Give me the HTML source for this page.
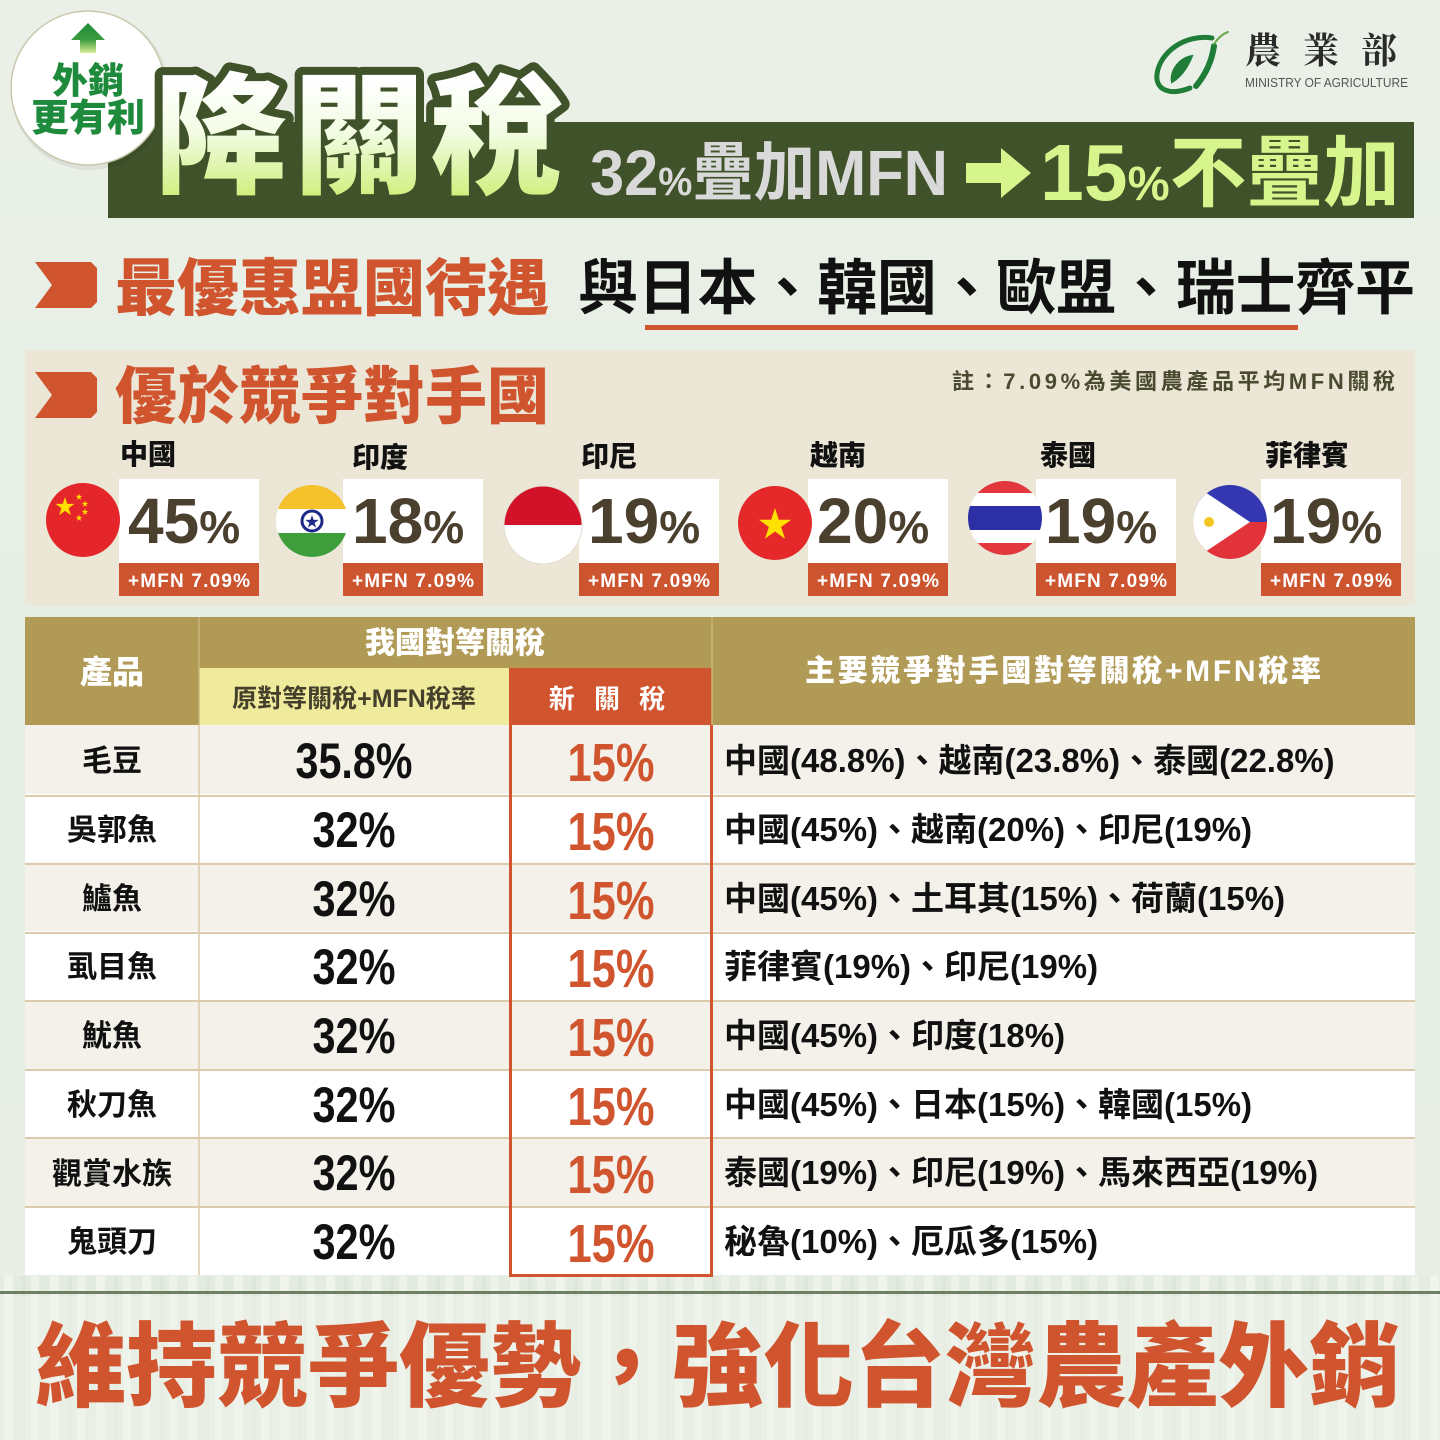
<!DOCTYPE html>
<html>
<head>
<meta charset="utf-8">
<style>
  html,body{margin:0;padding:0;background:#e8efe5;}
  svg{display:block;}
</style>
</head>
<body>
<svg width="1440" height="1440" viewBox="0 0 1440 1440" xmlns="http://www.w3.org/2000/svg" font-family="'Liberation Sans','Noto Sans CJK TC',sans-serif">
  <defs>
    <linearGradient id="bg" x1="0" y1="0" x2="0" y2="1">
      <stop offset="0" stop-color="#eaf0e7"/>
      <stop offset="0.6" stop-color="#e6eee3"/>
      <stop offset="1" stop-color="#e9efe6"/>
    </linearGradient>
    <linearGradient id="tg" gradientUnits="userSpaceOnUse" x1="0" y1="80" x2="0" y2="196">
      <stop offset="0" stop-color="#ffffff"/>
      <stop offset="0.45" stop-color="#f3fce4"/>
      <stop offset="1" stop-color="#cff07f"/>
    </linearGradient>
    <linearGradient id="ag" x1="0" y1="0" x2="0" y2="1">
      <stop offset="0" stop-color="#1f8a3a"/>
      <stop offset="0.55" stop-color="#3c9b3e"/>
      <stop offset="1" stop-color="#d7ee95"/>
    </linearGradient>
    <pattern id="stripes" width="46" height="10" patternUnits="userSpaceOnUse">
      <rect width="46" height="10" fill="#e4ebe0"/>
      <rect x="4" width="9" height="10" fill="#f1f5ee"/>
      <rect x="22" width="4" height="10" fill="#dde6d9"/>
      <rect x="31" width="8" height="10" fill="#eef3eb"/>
    </pattern>
    <polygon id="star" points="0,-1 0.225,-0.309 0.951,-0.309 0.363,0.118 0.588,0.809 0,0.382 -0.588,0.809 -0.363,0.118 -0.951,-0.309 -0.225,-0.309"/>
    <clipPath id="cCN"><circle cx="83" cy="520" r="37"/></clipPath>
    <clipPath id="cIN"><circle cx="312" cy="521" r="36"/></clipPath>
    <clipPath id="cID"><circle cx="543" cy="525" r="39"/></clipPath>
    <clipPath id="cVN"><circle cx="775" cy="523" r="37"/></clipPath>
    <clipPath id="cTH"><circle cx="1005" cy="518" r="37"/></clipPath>
    <clipPath id="cPH"><circle cx="1230" cy="522" r="37"/></clipPath>
  </defs>

  <!-- background -->
  <rect x="0" y="0" width="1440" height="1440" fill="url(#bg)"/>
  <rect x="0" y="1276" width="1440" height="164" fill="url(#stripes)" opacity="0.9"/>
  <rect x="0" y="1296" width="1440" height="144" fill="#eef2eb" opacity="0.55"/>

  <!-- banner -->
  <rect x="108" y="122" width="1306" height="96" fill="#3f5229"/>

  <!-- badge -->
  <circle cx="90" cy="91" r="79" fill="#000" opacity="0.06"/>
  <circle cx="88" cy="88" r="77" fill="#ffffff" stroke="#c9c9ad" stroke-width="1.5"/>
  <polygon points="88,23 105,40 96,40 96,53 80,53 80,40 71,40" fill="url(#ag)"/>
  <text x="88" y="93" font-size="36" font-weight="900" fill="#1e8a3b" text-anchor="middle">外銷</text>
  <text x="88" y="131" font-size="38" font-weight="900" fill="#1e8a3b" text-anchor="middle">更有利</text>

  <!-- title -->
  <text x="155" y="183" font-size="132" font-weight="900" letter-spacing="6" fill="url(#tg)" stroke="#3f5229" stroke-width="16" stroke-linejoin="round" paint-order="stroke">降關稅</text>
  <text x="590" y="195" font-size="64" font-weight="700" fill="#d9d9d9" textLength="358" lengthAdjust="spacingAndGlyphs">32<tspan font-size="40">%</tspan>疊加MFN</text>
  <polygon points="966,163 1001,163 1001,148 1031,173 1001,198 1001,183 966,183" fill="#d6f58c"/>
  <text x="1040" y="200" font-size="80" font-weight="700" fill="#d6f58c" textLength="360" lengthAdjust="spacingAndGlyphs">15<tspan font-size="48">%</tspan><tspan font-size="78">不疊加</tspan></text>

  <!-- logo -->
  <g fill="none" stroke="#1f7d38" stroke-linecap="round">
    <path d="M1212,38 C1185,34 1160,52 1157,74 C1155,90 1170,96 1190,88" stroke-width="5"/>
    <path d="M1172,82 C1170,70 1180,58 1192,56 C1188,66 1182,76 1172,82 Z" fill="#1f7d38" stroke-width="2"/>
    <path d="M1196,86 C1206,74 1212,60 1214,46" stroke-width="6"/>
    <path d="M1214,44 C1218,38 1222,34 1228,32" stroke="#6aa84f" stroke-width="2"/>
  </g>
  <text x="1245" y="63" font-size="36" font-family="'Noto Serif CJK SC',serif" font-weight="700" fill="#2b2b2b" letter-spacing="22">農業部</text>
  <text x="1245" y="87" font-size="12.5" font-family="'Liberation Sans',sans-serif" fill="#555" textLength="163" lengthAdjust="spacingAndGlyphs">MINISTRY OF AGRICULTURE</text>

  <!-- row 2 -->
  <polygon points="35,262 91,262 97,268 97,302 91,308 35,308 52,285" fill="#d0552f"/>
  <text x="115" y="310" font-size="62" font-weight="900" fill="#d0552f">最優惠盟國待遇</text>
  <text x="578" y="309" font-size="60" font-weight="700" fill="#111" textLength="837">與日本、韓國、歐盟、瑞士齊平</text>
  <rect x="645" y="325" width="653" height="5" fill="#d0552f"/>

  <!-- panel -->
  <rect x="25" y="350" width="1390" height="255" fill="#ebe6d6"/>
  <polygon points="35,372 91,372 97,378 97,412 91,418 35,418 52,395" fill="#d0552f"/>
  <text x="115" y="418" font-size="62" font-weight="900" fill="#d0552f">優於競爭對手國</text>
  <text x="952" y="389" font-size="22" font-weight="700" fill="#4a4a30" textLength="443">註：7.09%為美國農產品平均MFN關稅</text>

  <g font-size="28" font-weight="900" fill="#111">
    <text x="120" y="464">中國</text>
    <text x="352" y="467">印度</text>
    <text x="581" y="466">印尼</text>
    <text x="810" y="465">越南</text>
    <text x="1040" y="465">泰國</text>
    <text x="1265" y="465">菲律賓</text>
  </g>

  <!-- boxes -->
  <g>
    <rect x="119" y="479" width="140" height="84" fill="#fff"/><rect x="119" y="563" width="140" height="33" fill="#cc5530"/>
    <rect x="343" y="479" width="140" height="84" fill="#fff"/><rect x="343" y="563" width="140" height="33" fill="#cc5530"/>
    <rect x="579" y="479" width="140" height="84" fill="#fff"/><rect x="579" y="563" width="140" height="33" fill="#cc5530"/>
    <rect x="808" y="479" width="140" height="84" fill="#fff"/><rect x="808" y="563" width="140" height="33" fill="#cc5530"/>
    <rect x="1036" y="479" width="140" height="84" fill="#fff"/><rect x="1036" y="563" width="140" height="33" fill="#cc5530"/>
    <rect x="1261" y="479" width="140" height="84" fill="#fff"/><rect x="1261" y="563" width="140" height="33" fill="#cc5530"/>
  </g>
  <g font-weight="700" fill="#4b3f2e">
    <text x="128" y="543" font-size="64">45<tspan font-size="46">%</tspan></text>
    <text x="352" y="543" font-size="64">18<tspan font-size="46">%</tspan></text>
    <text x="588" y="543" font-size="64">19<tspan font-size="46">%</tspan></text>
    <text x="817" y="543" font-size="64">20<tspan font-size="46">%</tspan></text>
    <text x="1045" y="543" font-size="64">19<tspan font-size="46">%</tspan></text>
    <text x="1270" y="543" font-size="64">19<tspan font-size="46">%</tspan></text>
  </g>
  <g font-size="19" font-weight="700" fill="#fff" text-anchor="middle">
    <text x="189" y="587" textLength="122">+MFN 7.09%</text>
    <text x="413" y="587" textLength="122">+MFN 7.09%</text>
    <text x="649" y="587" textLength="122">+MFN 7.09%</text>
    <text x="878" y="587" textLength="122">+MFN 7.09%</text>
    <text x="1106" y="587" textLength="122">+MFN 7.09%</text>
    <text x="1331" y="587" textLength="122">+MFN 7.09%</text>
  </g>

  <!-- flags -->
  <g clip-path="url(#cCN)">
    <rect x="40" y="480" width="90" height="90" fill="#e4262a"/>
    <use href="#star" transform="translate(65,507) scale(10)" fill="#ffde00"/>
    <use href="#star" transform="translate(79,497) scale(3.5)" fill="#ffde00"/>
    <use href="#star" transform="translate(85,504) scale(3.5)" fill="#ffde00"/>
    <use href="#star" transform="translate(85,512) scale(3.5)" fill="#ffde00"/>
    <use href="#star" transform="translate(79,518) scale(3.5)" fill="#ffde00"/>
  </g>
  <g clip-path="url(#cIN)">
    <rect x="270" y="480" width="90" height="29" fill="#f5c22c"/>
    <rect x="270" y="509" width="90" height="24" fill="#ffffff"/>
    <rect x="270" y="533" width="90" height="30" fill="#3f9e3c"/>
    <circle cx="312" cy="521" r="10" fill="#fff" stroke="#1e2a8a" stroke-width="3"/>
    <use href="#star" transform="translate(312,522) scale(7)" fill="#1e2a8a"/>
  </g>
  <g clip-path="url(#cID)">
    <rect x="500" y="484" width="90" height="41" fill="#d11229"/>
    <rect x="500" y="525" width="90" height="45" fill="#ffffff"/>
  </g>
  <circle cx="543" cy="525" r="39" fill="none" stroke="#e2ddd0" stroke-width="1"/>
  <g clip-path="url(#cVN)">
    <rect x="735" y="483" width="90" height="90" fill="#e5282a"/>
    <use href="#star" transform="translate(775,525) scale(17)" fill="#ffe000"/>
  </g>
  <g clip-path="url(#cTH)">
    <rect x="965" y="478" width="90" height="15" fill="#e2373c"/>
    <rect x="965" y="493" width="90" height="13" fill="#ffffff"/>
    <rect x="965" y="506" width="90" height="24" fill="#2c2fa6"/>
    <rect x="965" y="530" width="90" height="13" fill="#ffffff"/>
    <rect x="965" y="543" width="90" height="15" fill="#e2373c"/>
  </g>
  <g clip-path="url(#cPH)">
    <rect x="1190" y="482" width="90" height="40" fill="#3437b0"/>
    <rect x="1190" y="522" width="90" height="40" fill="#e2323a"/>
    <polygon points="1190,482 1250,522 1190,562" fill="#ffffff"/>
    <circle cx="1209" cy="522" r="5" fill="#f3c623"/>
  </g>

  <!-- table header -->
  <rect x="25" y="617" width="1390" height="108" fill="#b09a55"/>
  <rect x="199" y="668" width="310" height="57" fill="#f0ea9c"/>
  <rect x="509" y="668" width="203" height="57" fill="#d0552f"/>
  <line x1="199" y1="617" x2="199" y2="725" stroke="#c7b67c" stroke-width="1.5"/>
  <line x1="712" y1="617" x2="712" y2="725" stroke="#c7b67c" stroke-width="1.5"/>
  <text x="112" y="683" font-size="32" font-weight="900" fill="#fff" text-anchor="middle">產品</text>
  <text x="455" y="653" font-size="30" font-weight="900" fill="#fff" text-anchor="middle">我國對等關稅</text>
  <text x="354" y="707" font-size="25" font-weight="700" fill="#45402c" text-anchor="middle">原對等關稅+MFN稅率</text>
  <text x="610" y="708" font-size="26" font-weight="700" fill="#fff" text-anchor="middle" letter-spacing="6">新 關 稅</text>
  <text x="1063" y="681" font-size="30" font-weight="900" fill="#fff" text-anchor="middle" textLength="516">主要競爭對手國對等關稅+MFN稅率</text>

  <!-- table body rows -->
  <rect x="25" y="725" width="1390" height="68.75" fill="#f3f1ea"/>
  <rect x="25" y="793.75" width="1390" height="68.75" fill="#ffffff"/>
  <rect x="25" y="862.5" width="1390" height="68.75" fill="#f3f1ea"/>
  <rect x="25" y="931.25" width="1390" height="68.75" fill="#ffffff"/>
  <rect x="25" y="1000" width="1390" height="68.75" fill="#f3f1ea"/>
  <rect x="25" y="1068.75" width="1390" height="68.75" fill="#ffffff"/>
  <rect x="25" y="1137.5" width="1390" height="68.75" fill="#f3f1ea"/>
  <rect x="25" y="1206.25" width="1390" height="68.75" fill="#ffffff"/>
  <g stroke="#dccbaa" stroke-width="2">
    <line x1="25" y1="796" x2="1415" y2="796"/>
    <line x1="25" y1="864" x2="1415" y2="864"/>
    <line x1="25" y1="933" x2="1415" y2="933"/>
    <line x1="25" y1="1001" x2="1415" y2="1001"/>
    <line x1="25" y1="1070" x2="1415" y2="1070"/>
    <line x1="25" y1="1138" x2="1415" y2="1138"/>
    <line x1="25" y1="1207" x2="1415" y2="1207"/>
    <line x1="199" y1="725" x2="199" y2="1275" stroke-width="1.5"/>
  </g>
  <g stroke="#d0552f" stroke-width="3" fill="none">
    <path d="M510.5,725 V1275.5 H711.5 V725"/>
  </g>

  <!-- col1 -->
  <g font-size="30" font-weight="700" fill="#111" text-anchor="middle">
    <text x="112" y="771">毛豆</text>
    <text x="112" y="840">吳郭魚</text>
    <text x="112" y="909">鱸魚</text>
    <text x="112" y="977">虱目魚</text>
    <text x="112" y="1046">魷魚</text>
    <text x="112" y="1115">秋刀魚</text>
    <text x="112" y="1184">觀賞水族</text>
    <text x="112" y="1252">鬼頭刀</text>
  </g>
  <!-- col2 -->
  <g font-size="50" font-weight="700" fill="#111" text-anchor="middle">
    <text x="354" y="778" textLength="117" lengthAdjust="spacingAndGlyphs">35.8%</text>
    <text x="354" y="847" textLength="83" lengthAdjust="spacingAndGlyphs">32%</text>
    <text x="354" y="916" textLength="83" lengthAdjust="spacingAndGlyphs">32%</text>
    <text x="354" y="984" textLength="83" lengthAdjust="spacingAndGlyphs">32%</text>
    <text x="354" y="1053" textLength="83" lengthAdjust="spacingAndGlyphs">32%</text>
    <text x="354" y="1122" textLength="83" lengthAdjust="spacingAndGlyphs">32%</text>
    <text x="354" y="1190" textLength="83" lengthAdjust="spacingAndGlyphs">32%</text>
    <text x="354" y="1259" textLength="83" lengthAdjust="spacingAndGlyphs">32%</text>
  </g>
  <!-- col3 -->
  <g font-size="54" font-weight="700" fill="#d0552f" text-anchor="middle">
    <text x="611" y="781" textLength="87" lengthAdjust="spacingAndGlyphs">15%</text>
    <text x="611" y="850" textLength="87" lengthAdjust="spacingAndGlyphs">15%</text>
    <text x="611" y="919" textLength="87" lengthAdjust="spacingAndGlyphs">15%</text>
    <text x="611" y="987" textLength="87" lengthAdjust="spacingAndGlyphs">15%</text>
    <text x="611" y="1056" textLength="87" lengthAdjust="spacingAndGlyphs">15%</text>
    <text x="611" y="1125" textLength="87" lengthAdjust="spacingAndGlyphs">15%</text>
    <text x="611" y="1193" textLength="87" lengthAdjust="spacingAndGlyphs">15%</text>
    <text x="611" y="1262" textLength="87" lengthAdjust="spacingAndGlyphs">15%</text>
  </g>
  <!-- col4 -->
  <g font-size="33" font-weight="700" fill="#111">
    <text x="724" y="772">中國(48.8%)、越南(23.8%)、泰國(22.8%)</text>
    <text x="724" y="841">中國(45%)、越南(20%)、印尼(19%)</text>
    <text x="724" y="910">中國(45%)、土耳其(15%)、荷蘭(15%)</text>
    <text x="724" y="978">菲律賓(19%)、印尼(19%)</text>
    <text x="724" y="1047">中國(45%)、印度(18%)</text>
    <text x="724" y="1116">中國(45%)、日本(15%)、韓國(15%)</text>
    <text x="724" y="1184">泰國(19%)、印尼(19%)、馬來西亞(19%)</text>
    <text x="724" y="1253">秘魯(10%)、厄瓜多(15%)</text>
  </g>

  <!-- bottom -->
  <rect x="0" y="1291" width="1440" height="3" fill="#6e7f62"/>
  <text x="35" y="1399" font-size="92" font-weight="900" fill="#d0552f" textLength="1365" lengthAdjust="spacingAndGlyphs">維持競爭優勢，強化台灣農產外銷</text>
</svg>
</body>
</html>
